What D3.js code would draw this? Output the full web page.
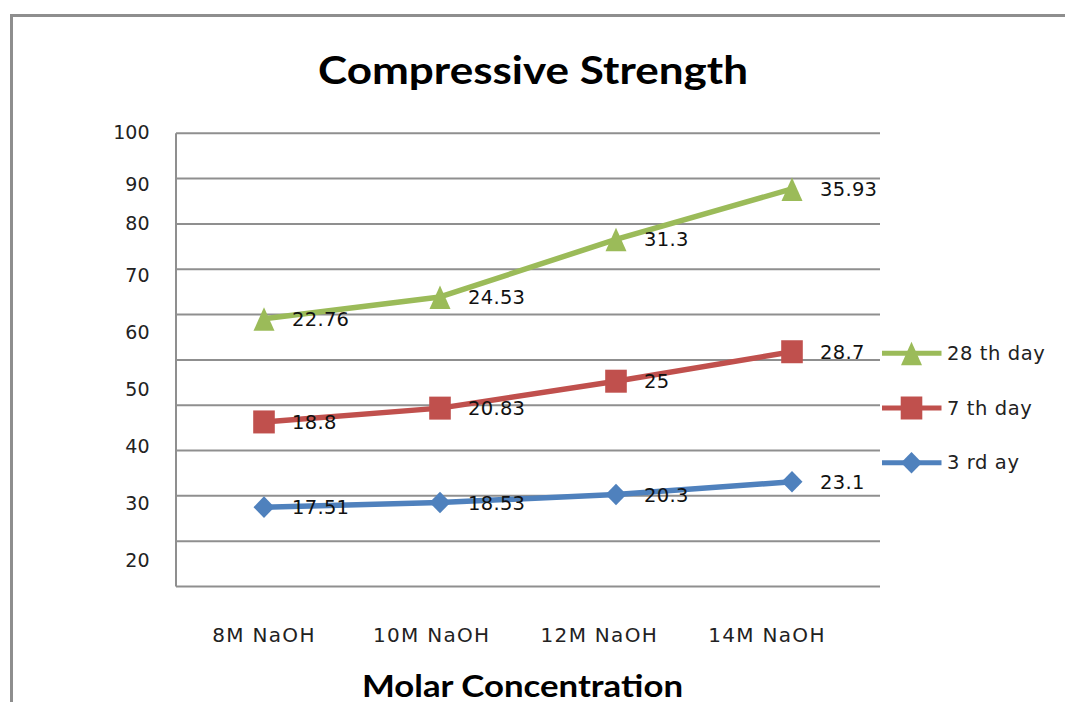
<!DOCTYPE html>
<html>
<head>
<meta charset="utf-8">
<script src="https://cdn.jsdelivr.net/npm/d3@7/dist/d3.min.js"></script>
<style>
  html, body { margin: 0; padding: 0; background: #fff; }
  svg { display: block; }
</style>
</head>
<body>
<svg id="chart" width="1065" height="702"></svg>
<script>
// Compressive strength per NaOH molarity, drawn as a stacked line chart
const categories = ["8M NaOH", "10M NaOH", "12M NaOH", "14M NaOH"];
const day3Values = [17.51, 18.53, 20.3, 23.1];
const day7Values = [18.8, 20.83, 25, 28.7];
const day28Values = [22.76, 24.53, 31.3, 35.93];
const seriesNames = ["3 rd ay", "7 th day", "28 th day"];
const seriesColors = ["#4F81BD", "#C0504D", "#9BBB59"];
const seriesShapes = ["diamond", "square", "triangle"];
const yTickLabels = [100, 90, 80, 70, 60, 50, 40, 30, 20];

const svg = d3.select("#chart");
const plot = { left: 176, right: 880, top: 133.3, bottom: 586.5 };

// outer chart frame
svg.append("rect")
  .attr("x", 11.5).attr("y", 15.5)
  .attr("width", 1120).attr("height", 760)
  .attr("fill", "#fff")
  .attr("stroke", "#8e8e8e").attr("stroke-width", 3);

// rows for stacking
const rows = categories.map((c, i) => ({
  cat: c, s0: day3Values[i], s1: day7Values[i], s2: day28Values[i]
}));
const keys = ["s0", "s1", "s2"];
const stacked = d3.stack().keys(keys)(rows);

const x = d3.scalePoint().domain(categories).range([plot.left, plot.right]).padding(0.5);
const y = d3.scaleLinear().domain([0, 100]).range([plot.bottom, plot.top]);

// tick label placement along the value axis
const yLabelPos = d3.scaleLinear()
  .domain([20, 60, 70, 80, 90, 100])
  .range([560, 331.7, 275.5, 223.3, 184.2, 132.5]);
// category label placement along the category axis
const xLabelPos = d3.scalePoint().domain(categories).range([264, 767]);

// gridlines
svg.append("g").selectAll("line")
  .data(y.ticks(10))
  .join("line")
  .attr("x1", plot.left).attr("x2", plot.right)
  .attr("y1", d => y(d)).attr("y2", d => y(d))
  .attr("stroke", "#8f8f8f").attr("stroke-width", 2);

// value axis line
svg.append("line")
  .attr("x1", plot.left).attr("x2", plot.left)
  .attr("y1", plot.top).attr("y2", plot.bottom)
  .attr("stroke", "#8f8f8f").attr("stroke-width", 2);

// value axis labels
svg.append("g").selectAll("text")
  .data(yTickLabels)
  .join("text")
  .attr("x", 149.5)
  .attr("y", d => yLabelPos(d))
  .attr("dy", "0.36em")
  .attr("text-anchor", "end")
  .attr("font-family", "DejaVu Sans, Verdana, sans-serif")
  .attr("font-size", 19)
  .attr("fill", "#222")
  .text(d => d);

// category labels
svg.append("g").selectAll("text")
  .data(categories)
  .join("text")
  .attr("x", d => xLabelPos(d))
  .attr("y", 641.5)
  .attr("text-anchor", "middle")
  .attr("font-family", "DejaVu Sans, Verdana, sans-serif")
  .attr("font-size", 20)
  .attr("letter-spacing", 1.3)
  .attr("fill", "#222")
  .text(d => d);

// marker shapes
function markerPath(shape) {
  if (shape === "triangle") return "M0,-11.5L10.5,12L-10.5,12Z";
  if (shape === "square") return "M-10.8,-11.5H10.8V11.5H-10.8Z";
  return "M0,-10.8L10.5,0L0,10.8L-10.5,0Z";
}

const line = d3.line()
  .x(d => x(d.data.cat))
  .y(d => y(d[1]));

const seriesG = svg.append("g");
stacked.forEach((layer, si) => {
  const g = seriesG.append("g");
  g.append("path")
    .datum(layer)
    .attr("d", line)
    .attr("fill", "none")
    .attr("stroke", seriesColors[si])
    .attr("stroke-width", 5.5)
    .attr("stroke-linejoin", "round");
  g.selectAll("path.mk")
    .data(layer)
    .join("path")
    .attr("class", "mk")
    .attr("transform", d => `translate(${x(d.data.cat)},${y(d[1])})`)
    .attr("d", markerPath(seriesShapes[si]))
    .attr("fill", seriesColors[si]);
});

// data labels showing each series' own value
const labelG = svg.append("g");
stacked.forEach((layer, si) => {
  labelG.selectAll(null)
    .data(layer)
    .join("text")
    .attr("x", d => x(d.data.cat) + 28)
    .attr("y", d => y(d[1]) + 7)
    .attr("font-family", "DejaVu Sans, Verdana, sans-serif")
    .attr("font-size", 19.5)
    .attr("letter-spacing", 0.3)
    .attr("fill", "#111")
    .text(d => d.data[keys[si]]);
});

// legend (top entry is the last series)
const legendOrder = [2, 1, 0];
const legendY = d3.scalePoint().domain(legendOrder).range([353.3, 462.7]);
const legend = svg.append("g");
legendOrder.forEach(si => {
  const ly = legendY(si);
  legend.append("line")
    .attr("x1", 882).attr("x2", 941.5)
    .attr("y1", ly).attr("y2", ly)
    .attr("stroke", seriesColors[si]).attr("stroke-width", 5);
  legend.append("path")
    .attr("transform", `translate(911.5,${ly})`)
    .attr("d", markerPath(seriesShapes[si]))
    .attr("fill", seriesColors[si]);
  legend.append("text")
    .attr("x", 947)
    .attr("y", ly + 6.5)
    .attr("font-family", "DejaVu Sans, Verdana, sans-serif")
    .attr("font-size", 19.5)
    .attr("letter-spacing", 0.6)
    .attr("fill", "#222")
    .text(seriesNames[si]);
});

// title
svg.append("text")
  .attr("x", 533).attr("y", 84)
  .attr("text-anchor", "middle")
  .attr("font-family", "Lato, 'Open Sans', sans-serif")
  .attr("font-weight", "bold")
  .attr("font-size", 39)
  .attr("textLength", 430)
  .attr("lengthAdjust", "spacingAndGlyphs")
  .attr("fill", "#000")
  .text("Compressive Strength");

// category axis title
svg.append("text")
  .attr("x", 522.5).attr("y", 697)
  .attr("text-anchor", "middle")
  .attr("font-family", "Lato, 'Open Sans', sans-serif")
  .attr("font-weight", "bold")
  .attr("font-size", 30)
  .attr("textLength", 321)
  .attr("lengthAdjust", "spacingAndGlyphs")
  .attr("fill", "#000")
  .text("Molar Concentration");
</script>
</body>
</html>
